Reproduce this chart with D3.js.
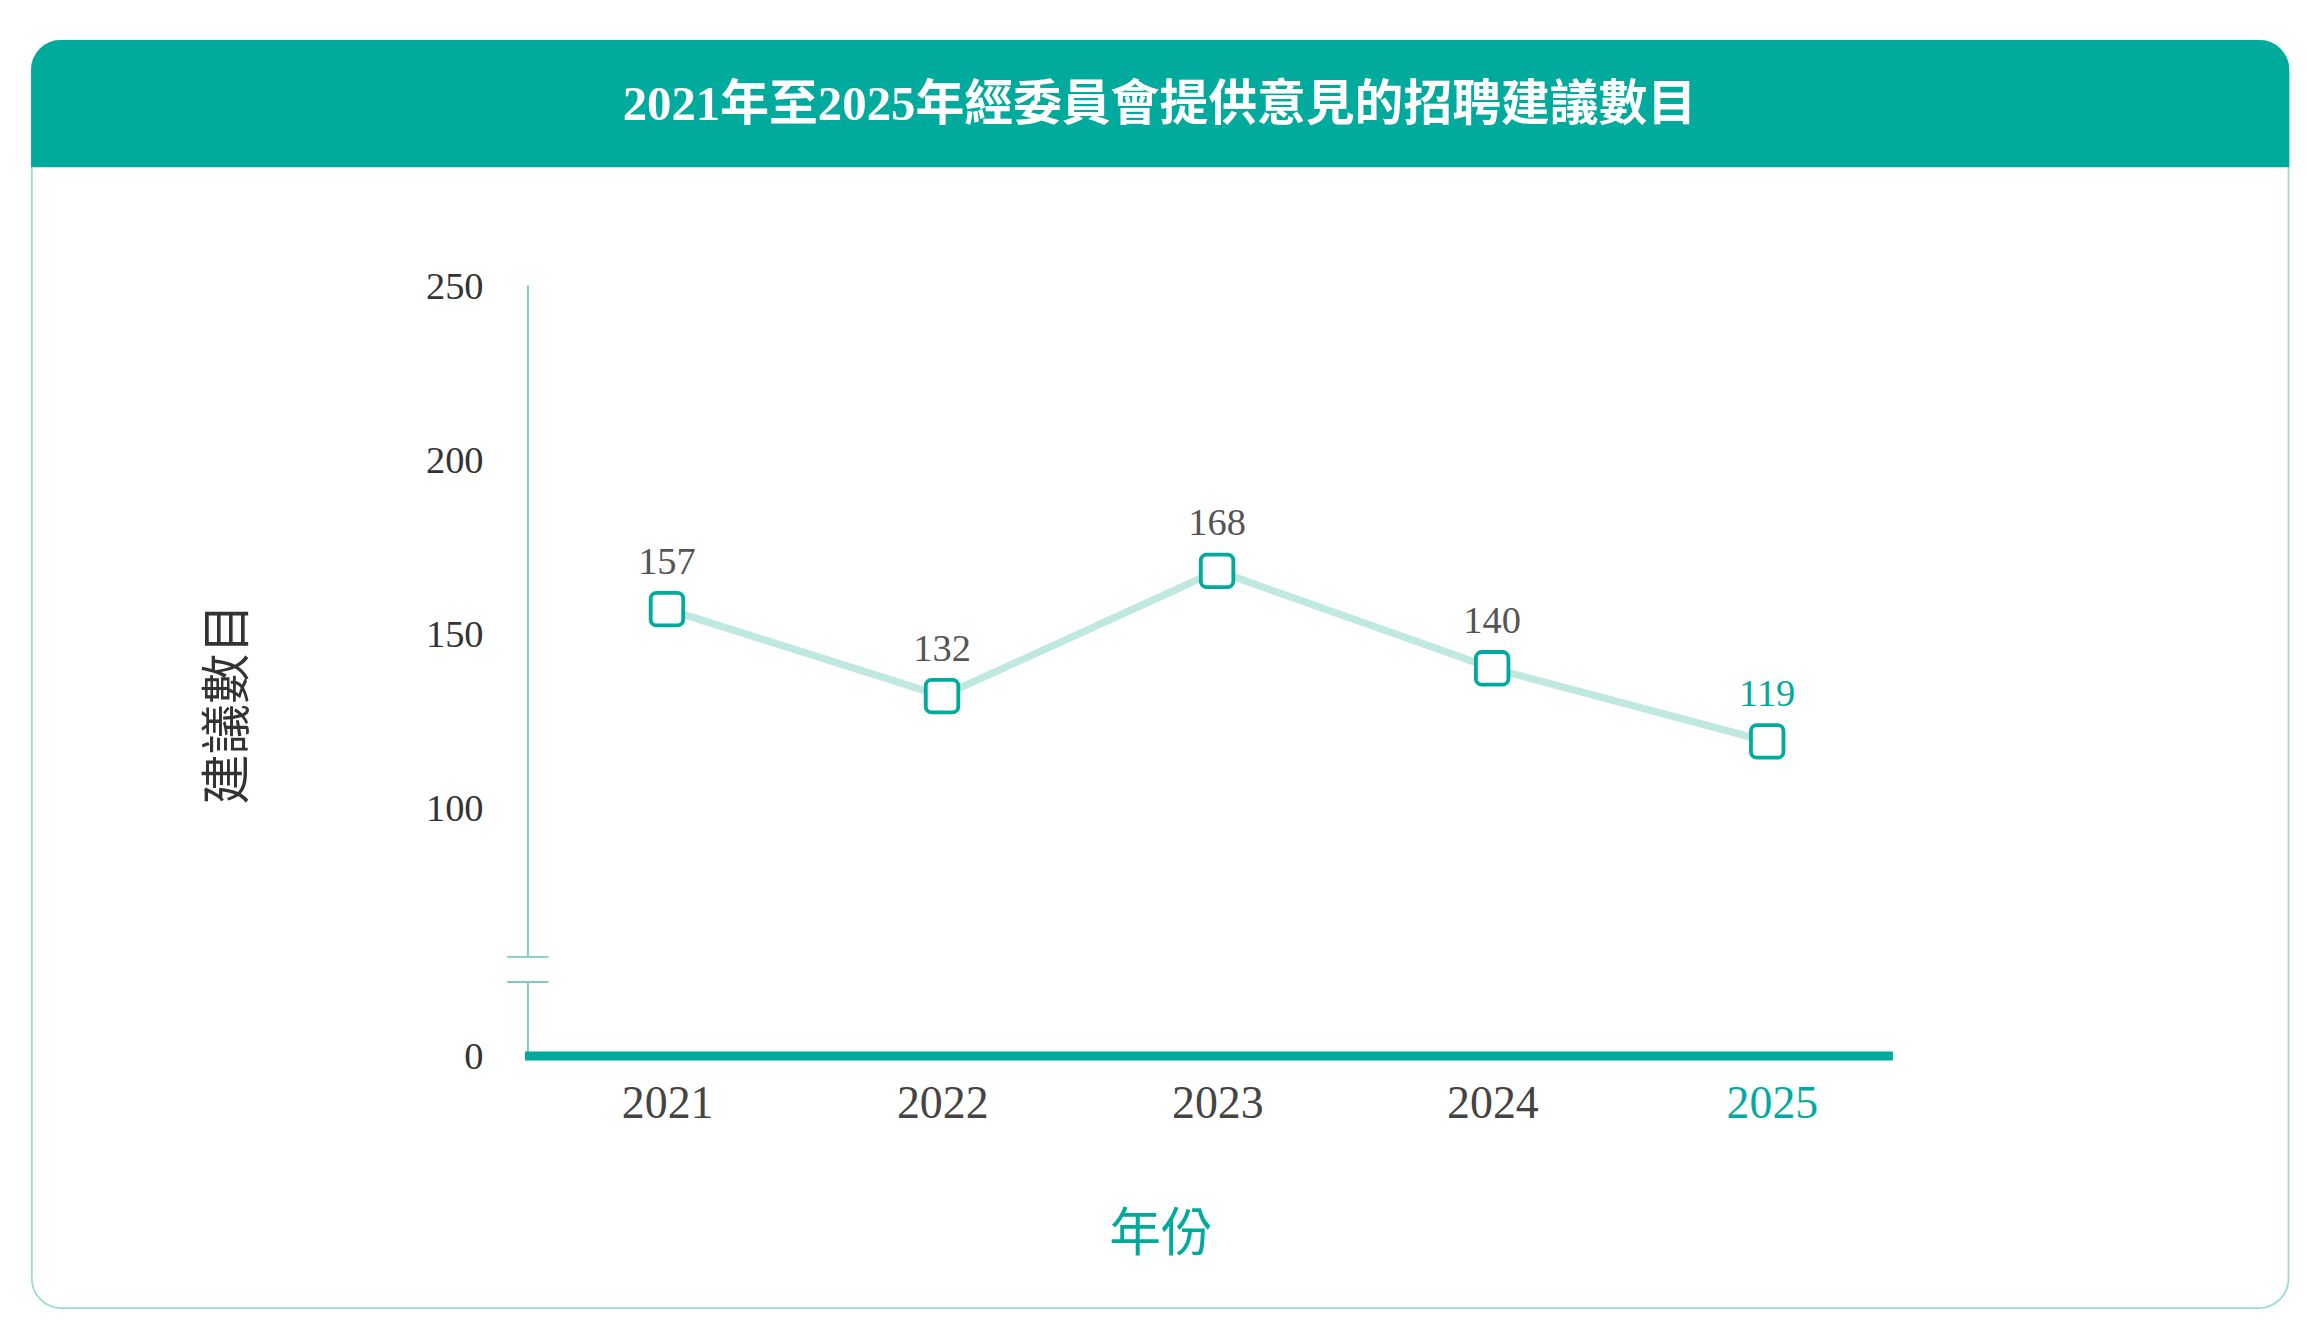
<!DOCTYPE html>
<html><head><meta charset="utf-8">
<script src="https://cdn.jsdelivr.net/npm/d3@7"></script>
<style>html,body{margin:0;padding:0;background:#fff;overflow:hidden}</style>
</head><body>
<script>
const title = "2021年至2025年經委員會提供意見的招聘建議數目";
const years = ["2021","2022","2023","2024","2025"];
const values = [157,132,168,140,119];
const yTicks = [0,100,150,200,250];
const yTitle = "建議數目";
const xTitle = "年份";

const teal = "#00ab9e", light = "#bfe8e1", gray = "#555";
const serif = "'Liberation Serif','Noto Sans CJK TC',serif";
const cjk = "'Noto Sans CJK TC',serif";

const svg = d3.select("body").append("svg")
  .attr("width",2307).attr("height",1337).attr("viewBox","0 0 1560 904");

// card
svg.append("rect").attr("x",21.5).attr("y",27.5).attr("width",1526).attr("height",857)
  .attr("rx",20).attr("fill","#fff").attr("stroke","#9ed9d2").attr("stroke-width",1.2);
svg.append("path").attr("fill",teal)
  .attr("d","M21,113 V47 A20,20 0 0 1 41,27 H1528 A20,20 0 0 1 1548,47 V113 Z");
svg.append("text").attr("x",784).attr("y",81).attr("text-anchor","middle")
  .attr("fill","#fff").attr("font-family",serif).attr("font-weight","bold").attr("font-size",33)
  .text(title);

const x = d3.scalePoint().domain(years).range([451,1195]);
const y = d3.scaleLinear().domain([0,100,250]).range([714,546,193]);

// y axis line with break
const ax = 357;
svg.append("line").attr("x1",ax).attr("x2",ax).attr("y1",y(250)).attr("y2",647).attr("stroke","#7ccbc4").attr("stroke-width",1.3);
svg.append("line").attr("x1",ax).attr("x2",ax).attr("y1",664).attr("y2",y(0)).attr("stroke","#7ccbc4").attr("stroke-width",1.3);
[647,664].forEach(v=>svg.append("line").attr("x1",343).attr("x2",371).attr("y1",v).attr("y2",v).attr("stroke","#7ccbc4").attr("stroke-width",1.3));

const yAxis = svg.append("g").attr("transform","translate(327,0)")
  .call(d3.axisLeft(y).tickValues(yTicks).tickSize(0).tickPadding(0));
yAxis.select(".domain").remove();
yAxis.selectAll("text").attr("font-family",serif).attr("font-size",26).attr("fill","#333").attr("dy","0.32em");

// baseline
svg.append("line").attr("x1",355).attr("x2",1280).attr("y1",y(0)).attr("y2",y(0)).attr("stroke",teal).attr("stroke-width",6);

// x axis labels
const xAxis = svg.append("g").attr("transform",`translate(0,${y(0)+20})`)
  .call(d3.axisBottom(x).tickSize(0).tickPadding(0));
xAxis.select(".domain").remove();
xAxis.selectAll("text").attr("font-family",serif).attr("font-size",31)
  .attr("fill",d=>d==="2025"?teal:"#444").attr("dy","0.71em").attr("dx",d=>d==="2025"?3:0);

// line
svg.append("path").datum(values)
  .attr("d",d3.line().x((d,i)=>x(years[i])).y(d=>y(d)))
  .attr("fill","none").attr("stroke",light).attr("stroke-width",5);

// markers
svg.selectAll(".m").data(values).join("rect")
  .attr("x",(d,i)=>x(years[i])-11).attr("y",d=>y(d)-11).attr("width",22).attr("height",22).attr("rx",4)
  .attr("fill","#fff").attr("stroke",teal).attr("stroke-width",2.6);

svg.selectAll(".lbl").data(values).join("text")
  .attr("x",(d,i)=>x(years[i])).attr("y",d=>y(d)-24).attr("text-anchor","middle")
  .attr("font-family",serif).attr("font-size",26)
  .attr("fill",(d,i)=>i===4?teal:gray).text(d=>d);

// axis titles
svg.append("text").attr("transform","translate(165,476) rotate(-90)").attr("text-anchor","middle")
  .attr("font-family",cjk).attr("font-size",34).attr("fill","#333").text(yTitle);
svg.append("text").attr("x",785).attr("y",846).attr("text-anchor","middle")
  .attr("font-family",cjk).attr("font-size",35).attr("fill",teal).text(xTitle);
</script>
</body></html>
